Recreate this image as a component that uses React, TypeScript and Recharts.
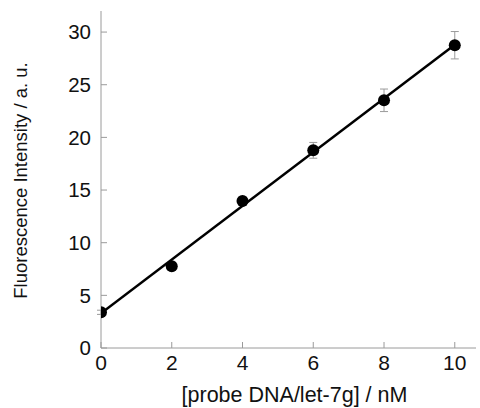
import React from 'react';
import { ComposedChart, XAxis, YAxis, Scatter, Line, ErrorBar } from 'recharts';

const concentrations = [0, 2, 4, 6, 8, 10];
const intensities = [3.39, 7.76, 13.96, 18.77, 23.52, 28.75];
const errors = [0.2, 0.3, 0.35, 0.75, 1.07, 1.3];
const fitX = [0, 10];
const fitY = [3.3, 28.8];
const xTicks = [0, 2, 4, 6, 8, 10];
const yTicks = [0, 5, 10, 15, 20, 25, 30];

const points = concentrations.map((x, i) => ({ x, y: intensities[i], err: errors[i] }));
const fit = fitX.map((x, i) => ({ x, y: fitY[i] }));

const FONT = '"Liberation Sans", Arial, sans-serif';
const AXIS = '#9a9a9a';

const XTick = (props: any) => {
  const { x, y, payload } = props;
  return (
    <g>
      <line x1={x} x2={x} y1={y - 7} y2={y - 13} stroke={AXIS} strokeWidth={1} />
      <text x={x} y={y} dy="0.71em" textAnchor="middle" fontFamily={FONT} fontSize={21} fill="#111">
        {payload.value}
      </text>
    </g>
  );
};

const YTick = (props: any) => {
  const { x, y, payload } = props;
  return (
    <g>
      <line x1={x + 10} x2={x + 16} y1={y} y2={y} stroke={AXIS} strokeWidth={1} />
      <text x={x} y={y} dy="0.35em" textAnchor="end" fontFamily={FONT} fontSize={20.5} fill="#111">
        {payload.value}
      </text>
    </g>
  );
};

const XLabel = (props: any) => {
  const vb = props.viewBox;
  return (
    <text x={vb.x + vb.width / 2 + 6} y={vb.y + 54} textAnchor="middle" fontFamily={FONT} fontSize={21.5} fill="#111">
      [probe DNA/let-7g] / nM
    </text>
  );
};

const YLabel = (props: any) => {
  const vb = props.viewBox;
  const cx = 21;
  const cy = vb.y + vb.height / 2 + 1;
  return (
    <text x={cx} y={cy} dy="0.35em" textAnchor="middle" transform={`rotate(-90, ${cx}, ${cy})`} fontFamily={FONT} fontSize={18.5} fill="#111">
      Fluorescence Intensity / a. u.
    </text>
  );
};

export default function App() {
  return (
    <div style={{ position: 'absolute', left: 0, top: 0, background: '#fff' }}>
      <ComposedChart width={480} height={408} margin={{ top: 11, right: 4, bottom: 0, left: 0 }}>
        <XAxis
          type="number"
          dataKey="x"
          domain={[0, 10.6]}
          ticks={xTicks}
          allowDataOverflow
          height={60}
          axisLine={{ stroke: AXIS, strokeWidth: 1 }}
          tickLine={false}
          tickSize={0}
          tickMargin={7}
          tick={<XTick />}
          interval={0}
          label={<XLabel />}
        />
        <YAxis
          type="number"
          dataKey="y"
          domain={[0, 32]}
          ticks={yTicks}
          allowDataOverflow
          width={101}
          axisLine={{ stroke: AXIS, strokeWidth: 1 }}
          tickLine={false}
          tickSize={0}
          tickMargin={10}
          tick={<YTick />}
          interval={0}
          label={<YLabel />}
        />
        <Line
          data={fit}
          dataKey="y"
          type="linear"
          stroke="#000"
          strokeWidth={2.5}
          dot={false}
          activeDot={false}
          isAnimationActive={false}
        />
        <Scatter data={points} dataKey="y" fill="#000" isAnimationActive={false} shape={(p: any) => <circle cx={p.cx} cy={p.cy} r={6} fill="#000" />}>
          <ErrorBar dataKey="err" direction="y" width={4} stroke={AXIS} strokeWidth={1} />
        </Scatter>
      </ComposedChart>
    </div>
  );
}
